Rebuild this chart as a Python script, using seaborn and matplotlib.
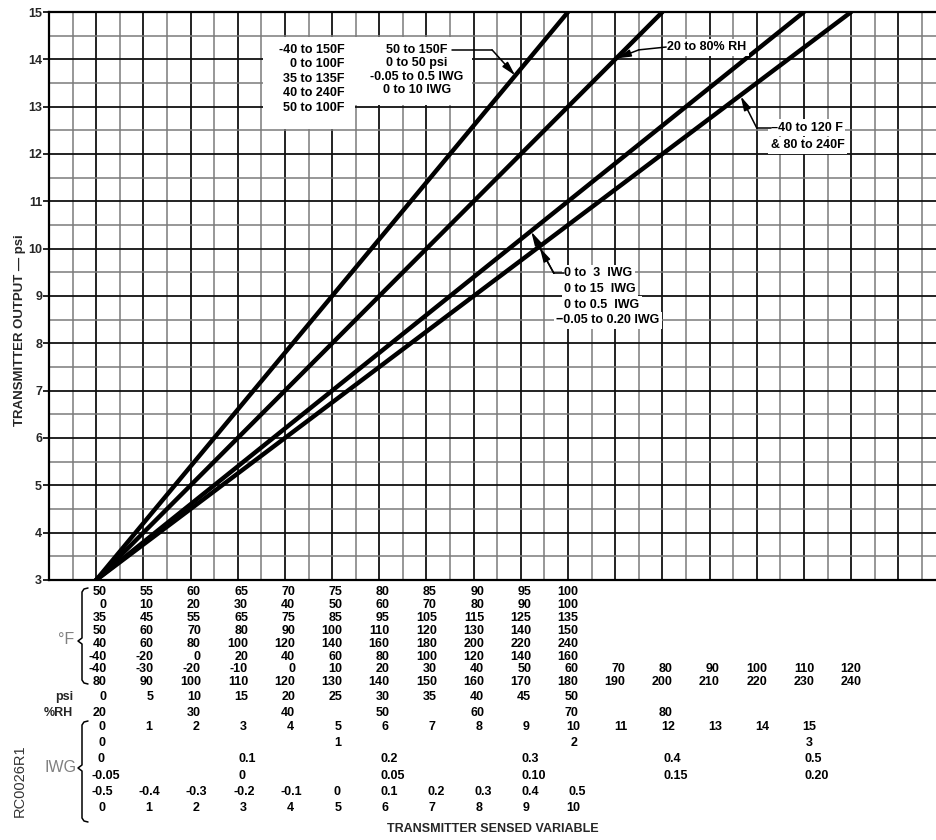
import numpy as np
import pandas as pd
import matplotlib
matplotlib.use("Agg")
import matplotlib.pyplot as plt
from matplotlib.lines import Line2D
from matplotlib.patches import Rectangle
from matplotlib import transforms
import seaborn as sns

# ---------- DATA ----------
# every range starts at column 0 / 3 psi and reaches 15 psi at the given column
line_names = ["50 to 150F", "20 to 80% RH", "0 to 15 IWG", "-40 to 120F"]
span_start = [0, 0, 0, 0]
span_end = [10, 12, 15, 16]
out_min = [3, 3, 3, 3]
out_max = [15, 15, 15, 15]

fahr_rows = [
    ["50", "55", "60", "65", "70", "75", "80", "85", "90", "95", "100"],
    ["0", "10", "20", "30", "40", "50", "60", "70", "80", "90", "100"],
    ["35", "45", "55", "65", "75", "85", "95", "105", "115", "125", "135"],
    ["50", "60", "70", "80", "90", "100", "110", "120", "130", "140", "150"],
    ["40", "60", "80", "100", "120", "140", "160", "180", "200", "220", "240"],
    ["-40", "-20", "0", "20", "40", "60", "80", "100", "120", "140", "160"],
    ["-40", "-30", "-20", "-10", "0", "10", "20", "30", "40", "50", "60",
     "70", "80", "90", "100", "110", "120"],
    ["80", "90", "100", "110", "120", "130", "140", "150", "160", "170", "180",
     "190", "200", "210", "220", "230", "240"],
]
psi_labels = ["0", "5", "10", "15", "20", "25", "30", "35", "40", "45", "50"]
rh_cols = [0, 2, 4, 6, 8, 10, 12]
rh_labels = ["20", "30", "40", "50", "60", "70", "80"]

iwg_int_cols = [0, 1, 2, 3, 4, 5, 6, 7, 8, 9, 10, 11, 12, 13, 14, 15]
iwg_int_labels = ["0", "1", "2", "3", "4", "5", "6", "7", "8", "9", "10",
                  "11", "12", "13", "14", "15"]
iwg_3_cols = [0, 5, 10, 15]
iwg_3_labels = ["0", "1", "2", "3"]
iwg_05_cols = [0, 3, 6, 9, 12, 15]
iwg_05_labels = ["0", "0.1", "0.2", "0.3", "0.4", "0.5"]
iwg_020_cols = [0, 3, 6, 9, 12, 15]
iwg_020_labels = ["-0.05", "0", "0.05", "0.10", "0.15", "0.20"]
iwg_pm_cols = [0, 1, 2, 3, 4, 5, 6, 7, 8, 9, 10]
iwg_pm_labels = ["-0.5", "-0.4", "-0.3", "-0.2", "-0.1", "0", "0.1", "0.2",
                 "0.3", "0.4", "0.5"]
iwg_10_cols = [0, 1, 2, 3, 4, 5, 6, 7, 8, 9, 10]
iwg_10_labels = ["0", "1", "2", "3", "4", "5", "6", "7", "8", "9", "10"]

# ---------- STYLE ----------
sns.set_theme(style="white")
plt.rcParams["font.family"] = ["Liberation Sans", "DejaVu Sans"]

W, H = 937, 840
fig = plt.figure(figsize=(W / 100, H / 100), dpi=100)
ax = fig.add_axes([49 / W, 1 - 580 / H, 1 - 49 / W, 568 / H])


def fx(px):
    return px / W


def fy(py):
    return 1 - py / H


# ---------- LINES ----------
rows = []
for name, x0, x1, y0, y1 in zip(line_names, span_start, span_end, out_min, out_max):
    rows.append({"line": name, "x": x0, "y": y0})
    rows.append({"line": name, "x": x1, "y": y1})
df = pd.DataFrame(rows)
sns.lineplot(data=df, x="x", y="y", units="line", estimator=None, sort=False,
             color="black", lw=3.2, ax=ax, zorder=4)

ax.set_xlim(-1, 17.82)
ax.set_ylim(3, 15)
ax.set_xticks(np.arange(-1, 18, 1))
ax.set_xticks(np.arange(-0.5, 18, 1), minor=True)
ax.set_yticks(np.arange(3, 16, 1))
ax.set_yticks(np.arange(3.5, 15, 1), minor=True)
ax.set_xticklabels([])
ax.set_xlabel("")
ax.set_ylabel("")
ax.grid(which="major", color="#111111", lw=1.3)
ax.grid(which="minor", color="#7a7a7a", lw=1.1)
ax.set_axisbelow(True)
ax.tick_params(axis="x", which="both", length=0)
ax.tick_params(axis="y", which="major", length=4, width=1.2, color="black",
               pad=1, labelsize=9, left=True)
ax.tick_params(axis="y", which="minor", length=0)
for lab in ax.get_yticklabels():
    lab.set_fontweight("bold")
for side in ["left", "bottom", "top"]:
    ax.spines[side].set_color("black")
    ax.spines[side].set_linewidth(1.6)
ax.spines["right"].set_visible(False)

# ---------- BOXED LABELS IN PLOT ----------
ax.add_patch(Rectangle((3.53, 13.03), 4.44, 1.44, facecolor="white",
                       edgecolor="none", zorder=2))
ax.add_patch(Rectangle((3.53, 12.53), 1.95, 0.6, facecolor="white",
                       edgecolor="none", zorder=2))

tk = dict(fontsize=9, fontweight="bold", color="black", zorder=5)
left_box = ["-40 to 150F", "0 to 100F", "35 to 135F", "40 to 240F", "50 to 100F"]
for i, t in enumerate(left_box):
    ax.text(5.27, 14.2 - 0.306 * i, t, ha="right", va="center", **tk)
right_box = ["50 to 150F", "0 to 50 psi", "-0.05 to 0.5 IWG", "0 to 10 IWG"]
for i, t in enumerate(right_box):
    ax.text(6.8, 14.2 - 0.283 * i, t, ha="center", va="center", **tk)

arr = dict(arrowstyle="-|>,head_length=0.7,head_width=0.18", lw=1.1,
           color="black", shrinkA=0, shrinkB=0)
ax.plot([7.55, 8.39], [14.2, 14.2], color="black", lw=1.1, zorder=5)
ax.annotate("", xy=(8.88, 13.66), xytext=(8.39, 14.2), arrowprops=arr, zorder=5)

bb = dict(boxstyle="square,pad=0.2", facecolor="white", edgecolor="none")
ax.text(12.1, 14.26, "20 to 80% RH", ha="left", va="center", bbox=bb, **tk)
ax.plot([12.08, 11.5], [14.26, 14.2], color="black", lw=1.1, zorder=6)
ax.annotate("", xy=(11.03, 14.02), xytext=(11.5, 14.2), arrowprops=arr, zorder=5)

ax.text(14.3, 12.55, "\u201340 to 120 F", ha="left", va="center", bbox=bb, **tk)
ax.text(14.3, 12.19, "& 80 to 240F", ha="left", va="center", bbox=bb, **tk)
ax.plot([14.3, 14.0], [12.55, 12.55], color="black", lw=1.1, zorder=6)
ax.annotate("", xy=(13.66, 13.22), xytext=(14.0, 12.55), arrowprops=arr, zorder=5)

iwg_box = ["0 to  3  IWG", "0 to 15  IWG", "0 to 0.5  IWG", "\u22120.05 to 0.20 IWG"]
iwg_box_x = [9.92, 9.92, 9.92, 9.75]
for i, t in enumerate(iwg_box):
    ax.text(iwg_box_x[i], 9.48 - 0.33 * i, t, ha="left", va="center", bbox=bb, **tk)
ax.plot([9.92, 9.7], [9.48, 9.48], color="black", lw=1.1, zorder=6)
ax.annotate("", xy=(9.22, 10.36), xytext=(9.7, 9.48), arrowprops=arr, zorder=5)
ax.annotate("", xy=(9.4, 10.02), xytext=(9.7, 9.48), arrowprops=arr, zorder=5)

# ---------- SCALE TABLE UNDER THE AXIS ----------
tr = transforms.blended_transform_factory(ax.transData, fig.transFigure)
num = dict(fontsize=9, fontweight="bold", color="black", transform=tr)

for r, labels in enumerate(fahr_rows):
    for c, t in enumerate(labels):
        fig.text(c + 0.22, fy(592 + 12.9 * r), t, ha="right", va="center", **num)
for c, t in enumerate(psi_labels):
    fig.text(c + 0.22, fy(697), t, ha="right", va="center", **num)
for c, t in zip(rh_cols, rh_labels):
    fig.text(c + 0.22, fy(713), t, ha="right", va="center", **num)

iwg_rows = [
    (iwg_int_cols, iwg_int_labels, "center"),
    (iwg_3_cols, iwg_3_labels, "center"),
    (iwg_05_cols, iwg_05_labels, "left"),
    (iwg_020_cols, iwg_020_labels, "left"),
    (iwg_pm_cols, iwg_pm_labels, "left"),
    (iwg_10_cols, iwg_10_labels, "center"),
]
for r, (cols, labels, ha) in enumerate(iwg_rows):
    for c, t in zip(cols, labels):
        if ha == "center":
            xpos = c + 0.12
        else:
            xpos = c + 0.02 - (0.12 if t.startswith("-") else 0)
        fig.text(xpos, fy(727 + 16.2 * r), t, ha=ha, va="center", **num)

# row group labels and braces
gray = "#808080"
fig.text(fx(66), fy(640), "\u00b0F", ha="center", va="center", fontsize=11.5,
         color=gray)
fig.text(fx(73), fy(697), "psi", ha="right", va="center", fontsize=9,
         fontweight="bold")
fig.text(fx(73), fy(713), "%RH", ha="right", va="center", fontsize=9,
         fontweight="bold")
fig.text(fx(61), fy(768), "IWG", ha="center", va="center", fontsize=11.5,
         color=gray)
fig.text(fx(20), fy(781), "RC0026R1", ha="center", va="center", rotation=90,
         fontsize=10.5, color="#333333")


def brace(x, y0, y1, ym):
    pts = [(x + 6, y0), (x + 2, y0 + 1), (x, y0 + 4), (x, ym - 3), (x - 4, ym),
           (x, ym + 3), (x, y1 - 4), (x + 2, y1 - 1), (x + 6, y1)]
    fig.add_artist(Line2D([fx(p[0]) for p in pts], [fy(p[1]) for p in pts],
                          color="black", lw=1.1, transform=fig.transFigure))


brace(82, 588, 684, 641)
brace(82, 721, 822, 768)

fig.text(0.5 + 24 / W, fy(829), "TRANSMITTER SENSED VARIABLE", ha="center",
         va="center", fontsize=9, fontweight="bold")
fig.text(fx(20), fy(330), "TRANSMITTER OUTPUT \u2014 psi", ha="center",
         va="center", rotation=90, fontsize=9.5, fontweight="bold")

fig.savefig("out.png", dpi=100)
